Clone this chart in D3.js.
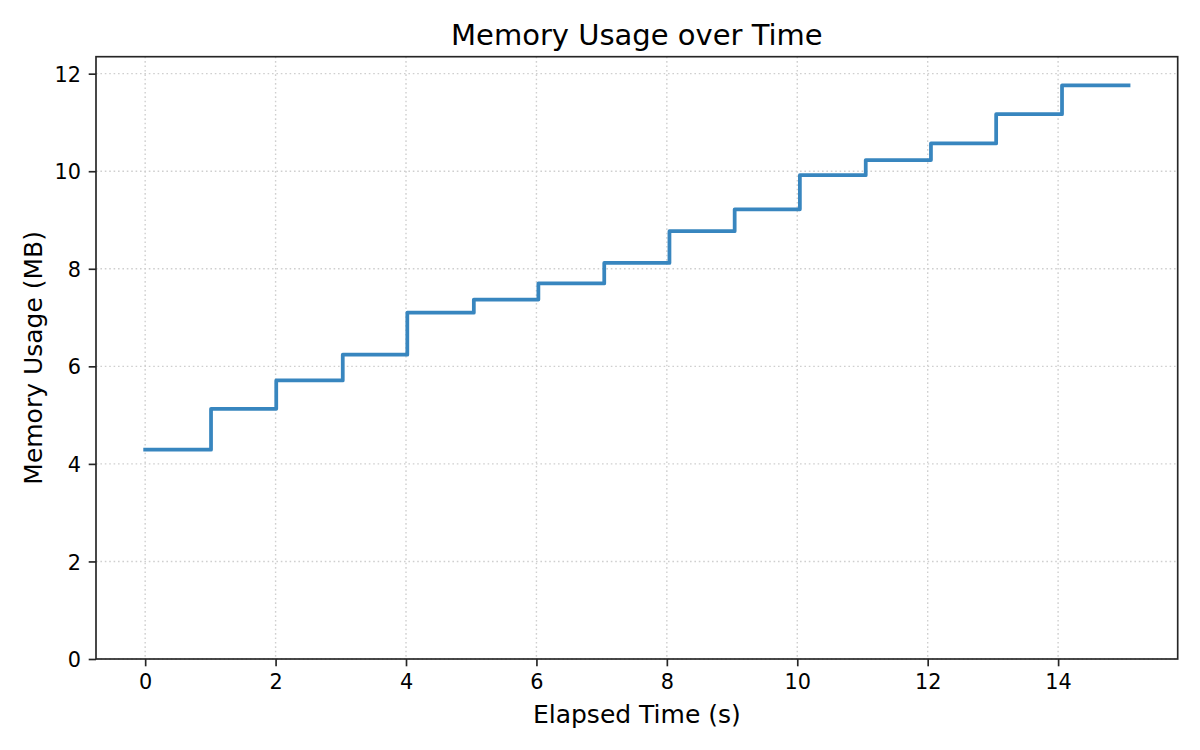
<!DOCTYPE html>
<html>
<head>
<meta charset="utf-8">
<script src="https://cdn.jsdelivr.net/npm/d3@7"></script>
<style>
  html, body { margin: 0; padding: 0; background: #fff; }
  svg { display: block; font-family: "DejaVu Sans", sans-serif; }
</style>
</head>
<body>
<svg id="chart" width="1200" height="750"></svg>
<script>
// Data
const times  = [0, 1.01, 2.01, 3.03, 4.02, 5.04, 6.03, 7.04, 8.04, 9.04, 10.04, 11.05, 12.05, 13.05, 14.06, 15.08];
const memory = [4.29, 5.13, 5.71, 6.24, 7.10, 7.37, 7.70, 8.12, 8.77, 9.22, 9.92, 10.23, 10.57, 11.17, 11.76, 11.76];
const xTicks = [0, 2, 4, 6, 8, 10, 12, 14];
const yTicks = [0, 2, 4, 6, 8, 10, 12];
const titleText = "Memory Usage over Time";
const xLabelText = "Elapsed Time (s)";
const yLabelText = "Memory Usage (MB)";

const svg = d3.select("#chart");
const L = 96, R = 1177.7, T = 56.7, B = 659;

const xMax = d3.max(times);
const xPad = xMax * 0.05;
const x = d3.scaleLinear().domain([-xPad, xMax + xPad]).range([L, R]);
const y = d3.scaleLinear().domain([0, d3.max(memory) * 1.05]).range([B, T]);

const spineColor = "#262626";
const spineW = 1.67;

// Grid
const grid = svg.append("g");
grid.selectAll("line.gx").data(xTicks).join("line")
  .attr("x1", d => x(d)).attr("x2", d => x(d))
  .attr("y1", T).attr("y2", B)
  .attr("stroke", "#cfcfcf").attr("stroke-width", 1.4)
  .attr("stroke-dasharray", "1.6,2.8");
grid.selectAll("line.gy").data(yTicks).join("line")
  .attr("x1", L).attr("x2", R)
  .attr("y1", d => y(d)).attr("y2", d => y(d))
  .attr("stroke", "#cfcfcf").attr("stroke-width", 1.4)
  .attr("stroke-dasharray", "1.6,2.8");

// Step line
const data = times.map((t, i) => ({ t, m: memory[i] }));
const line = d3.line().x(d => x(d.t)).y(d => y(d.m)).curve(d3.curveStepAfter);
svg.append("path").datum(data)
  .attr("d", line)
  .attr("fill", "none")
  .attr("stroke", "#3886bf")
  .attr("stroke-width", 3.75)
  .attr("stroke-linecap", "square")
  .attr("stroke-linejoin", "round");

// Axes
const xAxis = d3.axisBottom(x).tickValues(xTicks).tickSize(7.3).tickPadding(6).tickFormat(d3.format("d"));
const gx = svg.append("g").attr("transform", `translate(0,${B})`).call(xAxis);
gx.select(".domain").remove();
gx.selectAll(".tick line").attr("stroke", spineColor).attr("stroke-width", spineW);
gx.selectAll(".tick text").attr("fill", "#000").attr("font-size", 20.8)
  .attr("font-family", "DejaVu Sans").attr("dy", null).attr("y", 29.5);

const yAxis = d3.axisLeft(y).tickValues(yTicks).tickSize(7.3).tickPadding(7).tickFormat(d3.format("d"));
const gy = svg.append("g").attr("transform", `translate(${L},0)`).call(yAxis);
gy.select(".domain").remove();
gy.selectAll(".tick line").attr("stroke", spineColor).attr("stroke-width", spineW);
gy.selectAll(".tick text").attr("fill", "#000").attr("font-size", 20.8)
  .attr("font-family", "DejaVu Sans").attr("dy", null).attr("y", 7.6).attr("x", -15);

// Spines
svg.append("rect")
  .attr("x", L).attr("y", T).attr("width", R - L).attr("height", B - T)
  .attr("fill", "none").attr("stroke", spineColor).attr("stroke-width", spineW);

// Title & labels
svg.append("text").attr("x", (L + R) / 2).attr("y", 45)
  .attr("text-anchor", "middle").attr("font-size", 29).attr("fill", "#000")
  .text(titleText);
svg.append("text").attr("x", (L + R) / 2).attr("y", 722.7)
  .attr("text-anchor", "middle").attr("font-size", 25).attr("fill", "#000")
  .text(xLabelText);
svg.append("text")
  .attr("transform", `translate(41.7,${(T + B) / 2}) rotate(-90)`)
  .attr("text-anchor", "middle").attr("font-size", 25).attr("fill", "#000")
  .text(yLabelText);
</script>
</body>
</html>
